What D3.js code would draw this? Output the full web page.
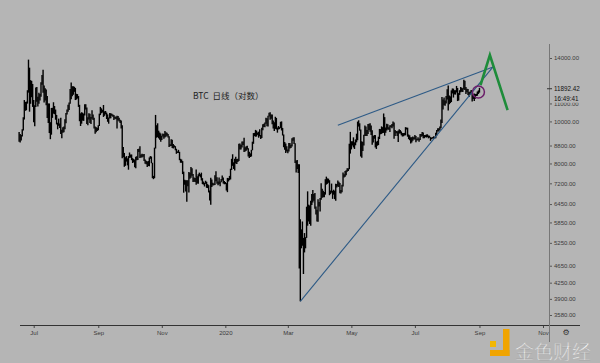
<!DOCTYPE html>
<html><head><meta charset="utf-8">
<script src="https://cdn.jsdelivr.net/npm/d3@7"></script>
<style>html,body{margin:0;padding:0;background:#b5b5b5;}svg{display:block;}</style>
</head><body>
<svg id="c" width="600" height="363"></svg>
<script>
// ---- data (BTC daily) ----
const monthStarts = ["2019-06-17","2019-07-01","2019-08-01","2019-09-01","2019-10-01","2019-11-01","2019-12-01",
  "2020-01-01","2020-02-01","2020-03-01","2020-04-01","2020-05-01","2020-06-01","2020-07-01","2020-08-01","2020-09-01"];
const dayHigh = [
 [9450,9350,9300,9590,10230,11200,11090,11110,11800,13880,13300,12450,12400,12200],
 [11200,10900,11970,12000,11400,11650,11570,12310,12800,13150,12100,11920,11850,11440,11000,11000,9960,10740,10750,11070,10850,10650,10350,9930,10150,9890,10190,9570,9700,9730,10110],
 [10460,10650,10920,11060,11880,12300,12050,12050,12020,11950,11580,11560,11440,10920,10440,10500,10470,10420,10950,10950,10760,10230,10440,10410,10240,10610,10370,10200,9730,9690,9670],
 [9800,10420,10800,10720,10640,10910,10550,10570,10480,10380,10210,10450,10440,10420,10380,10350,10270,10250,10300,10290,10200,10090,10050,9800,8730,8460,8270,8320,8220,8320],
 [8480,8390,8390,8230,8190,8160,8290,8310,8640,8650,8770,8390,8420,8400,8410,8170,8120,8080,8100,8260,8320,8300,8030,7490,8700,10350,9800,9900,9520,9430,9380],
 [9270,9380,9360,9500,9440,9410,9350,9240,8860,9100,9070,8870,8810,8770,8650,8530,8600,8510,8200,8170,8100,7660,7340,7320,7320,7320,7650,7620,7850,7800],
 [7570,7430,7410,7750,7480,7560,7620,7560,7620,7400,7270,7220,7300,7260,7170,7130,6930,7420,7350,7220,7190,7520,7680,7440,7270,7430,7270,7370,7510,7430,7290],
 [7250,7210,7410,7400,7490,7780,8200,8400,8050,8200,8290,8190,8200,8880,8890,8830,8990,8990,9170,8720,8760,8790,8670,8510,8440,8600,8980,9400,9410,9560,9520],
 [9430,9470,9590,9300,9670,9850,9880,9940,10190,10170,10300,10470,10500,10380,10370,10050,9960,10250,10190,9680,9760,9700,9980,10000,9660,9330,8960,8890,8760],
 [8610,8920,8920,8840,9150,9180,9200,8900,8130,8150,7970,7970,5950,5640,5880,5390,5530,5410,6360,6900,6430,6400,6560,6800,6950,6800,6840,6370,6260,6620,6520],
 [6660,7200,7000,6920,6880,7360,7460,7390,7380,7320,6930,7190,6920,6960,6920,7180,7170,7310,7260,7210,6950,7150,7630,7560,7690,7720,7800,7800,8880,9460],
 [9000,9000,9190,8950,9090,9370,9990,10060,9900,9580,9000,8960,9320,9790,9740,9560,9870,9880,9900,9780,9540,9260,9310,9300,8980,9020,9220,9610,9600,9740,9700],
 [10430,10230,9680,9880,9850,9700,9800,9800,9860,9990,9940,9560,9500,9490,9530,9590,9550,9480,9400,9400,9410,9700,9680,9670,9330,9290,9190,9190,9230,9200],
 [9300,9260,9120,9190,9130,9360,9350,9450,9430,9300,9300,9330,9340,9280,9270,9200,9180,9200,9240,9220,9420,9550,9640,9640,9730,10100,11380,11240,11350,11180,11450],
 [11860,12100,11470,11420,11790,11910,11900,11800,11800,12070,11940,11620,11800,12000,11960,11930,12470,12400,12010,11890,11880,11690,11720,11820,11790,11530,11590,11560,11580,11720,11790],
 [11950]
];
const dayLow = [
 [8980,8940,9040,9230,9530,10100,10580,10610,10990,11650,10530,10980,11370,10800],
 [9960,9750,10800,11100,10830,10980,11180,11400,12150,11650,11050,11180,10900,10180,9920,9400,9100,9320,10190,10420,10390,10090,9840,9590,9770,9660,9360,9150,9420,9440,9590],
 [9900,10370,10520,10630,10980,11250,11430,11520,11700,11200,11230,11290,10800,10010,9760,9880,10040,10030,10320,10650,9860,9800,10100,9910,9860,10140,10080,9630,9370,9440,9500],
 [9540,9760,10340,10440,10480,10240,10300,10380,10130,9980,9880,10150,10170,10300,10250,10080,10140,10120,9630,10050,9990,9920,9630,8220,8270,7860,7900,8080,7920,7740],
 [8240,8250,8140,8020,8050,7840,7800,8140,8150,8500,8240,8260,8260,8290,8110,7990,7970,7850,7890,7880,8200,8010,7400,7360,7400,8660,9170,9200,9140,9070,8980],
 [9060,9230,9120,9180,9220,9270,9180,8730,8770,8780,8680,8660,8710,8580,8420,8460,8460,8140,8030,8030,7560,6850,7150,6890,6530,7090,6860,7380,7420,7500],
 [7250,7260,7250,7150,7190,7180,7480,7430,7310,7170,7150,7080,7180,7030,7020,6860,6570,6430,7060,7120,7130,7140,7280,7180,7130,7160,7090,7240,7310,7190,7160],
 [7170,6930,6870,7270,7320,7350,7730,7900,7770,7710,8000,7980,8060,8100,8620,8610,8710,8820,8500,8520,8560,8610,8300,8240,8280,8300,8580,8880,9250,9220,9230],
 [9310,9170,9240,9110,9160,9540,9710,9690,9880,9750,9730,10260,10090,10140,9850,9630,9500,9610,9580,9420,9580,9600,9660,9530,9280,8720,8600,8460,8520],
 [8440,8520,8660,8680,8750,9020,8870,8020,7630,7770,7610,4580,3850,5100,5170,4450,4990,5100,5390,5750,5880,5800,5750,6420,6500,6560,6290,6100,5880,5870,6370],
 [6200,6600,6670,6690,6690,6780,7150,7180,7220,6760,6800,6850,6630,6780,6620,6560,7040,7080,7060,6830,6820,6870,7080,7430,7460,7520,7660,7690,7760,8430],
 [8620,8800,8710,8640,8810,8950,9050,9730,9520,8300,8250,8550,8800,9260,9260,9260,9360,9550,9460,9300,8830,8940,9120,8710,8640,8790,8820,9110,9340,9360,9400],
 [9410,9270,9420,9530,9580,9570,9450,9700,9640,9730,9120,9250,9390,9250,8970,9380,9380,9290,9230,9240,9280,9290,9580,9220,9100,9050,8890,8940,9030,9080],
 [9090,8950,9040,9050,8980,9060,9220,9240,9140,9150,9200,9180,9200,9140,9170,9020,9100,9130,9120,9140,9150,9280,9480,9480,9540,9650,9920,10650,10900,10860,10990],
 [11230,10600,10960,11020,11080,11600,11350,11540,11530,11660,11140,11170,11510,11680,11700,11690,11850,11820,11560,11680,11500,11380,11520,11600,11120,11260,11150,11280,11440,11460,11570],
 [11650]
];
const yTickValues = [14000,11000,10000,8800,8000,7200,6450,5850,5250,4650,4250,3900,3580];
const xTickDates = ["2019-07-01","2019-09-01","2019-11-01","2020-01-01","2020-03-01","2020-05-01","2020-07-01","2020-09-01","2020-11-01"];
const xTickLabels = ["Jul","Sep","Nov","2020","Mar","May","Jul","Sep","Nov"];
const titleText = "BTC  日线（对数）";
const lastPrice = 11892.42;
const countdown = "16:49:41";
const upperTrend = [["2020-04-18", 9800], ["2020-09-14", 13350]];
const lowerTrend = [["2020-03-13", 3850], ["2020-09-14", 13350]];
const projection = [["2020-09-02", 12120], ["2020-09-11", 14220], ["2020-09-28", 10620]];
const focusPoint = ["2020-08-31", 11690];
const watermark = "金色财经";

// ---- chart ----
const svg = d3.select("#c");
const W = 600, H = 363;
svg.append("rect").attr("width", W).attr("height", H).attr("fill", "#b5b5b5");

const parse = s => new Date(s + "T00:00:00Z");
const x = d3.scaleUtc().domain([parse("2019-07-01"), parse("2020-11-01")]).range([33.7, 543]);
const y = d3.scaleLog().domain([3580, 14000]).range([315, 58]);

const bars = [];
monthStarts.forEach((ms, m) => {
  const start = parse(ms);
  dayHigh[m].forEach((h, i) => {
    bars.push({ date: d3.utcDay.offset(start, i), hi: h, lo: dayLow[m][i] });
  });
});

const font = "'Liberation Sans', Arial, sans-serif";

// title
svg.append("text").attr("x", 193).attr("y", 99)
  .attr("font-family", "'Noto Sans CJK SC', 'Liberation Sans', sans-serif")
  .attr("font-size", 8.5).attr("fill", "#222").attr("xml:space", "preserve").text(titleText);

// price bars
svg.append("g").selectAll("line").data(bars).join("line")
  .attr("x1", d => x(d.date)).attr("x2", d => x(d.date))
  .attr("y1", d => y(d.lo)).attr("y2", d => y(d.hi))
  .attr("stroke", "#000").attr("stroke-width", 1.4);

// trend lines
const linePt = d3.line().x(d => x(parse(d[0]))).y(d => y(d[1]));
svg.append("path").attr("d", linePt(upperTrend)).attr("fill", "none").attr("stroke", "#2d5a86").attr("stroke-width", 1.1);
svg.append("path").attr("d", linePt(lowerTrend)).attr("fill", "none").attr("stroke", "#2d5a86").attr("stroke-width", 1.1);
svg.append("path").attr("d", linePt(projection)).attr("fill", "none").attr("stroke", "#1e8c3a")
  .attr("stroke-width", 2.6).attr("stroke-linejoin", "miter");
svg.append("circle").attr("cx", x(parse(focusPoint[0]))).attr("cy", y(focusPoint[1])).attr("r", 6)
  .attr("fill", "none").attr("stroke", "#6c1f6a").attr("stroke-width", 1.5);

// x axis
const xAxis = d3.axisBottom(x).tickValues(xTickDates.map(parse))
  .tickFormat((d, i) => xTickLabels[i]).tickSize(3).tickPadding(3);
const gx = svg.append("g").attr("transform", "translate(0,325)").call(xAxis);
gx.select(".domain").remove();
gx.selectAll(".tick line").attr("stroke", "#444");
gx.selectAll(".tick text").attr("font-family", font).attr("font-size", 6).attr("fill", "#3a3a3a");
svg.append("line").attr("x1", 20).attr("x2", 580).attr("y1", 325.5).attr("y2", 325.5)
  .attr("stroke", "#333").attr("stroke-width", 1);

// y axis
const yAxis = d3.axisRight(y).tickValues(yTickValues).tickFormat(d3.format(".2f")).tickSize(3).tickPadding(2);
const gy = svg.append("g").attr("transform", "translate(549,0)").call(yAxis);
gy.select(".domain").remove();
gy.selectAll(".tick line").attr("stroke", "#555");
gy.selectAll(".tick text").attr("font-family", font).attr("font-size", 6).attr("fill", "#3a3a3a");
svg.append("line").attr("x1", 549.5).attr("x2", 549.5).attr("y1", 44).attr("y2", 342)
  .attr("stroke", "#777").attr("stroke-width", 1);

// last price tag
const yp = y(lastPrice);
svg.append("rect").attr("x", 551).attr("y", yp - 6.5).attr("width", 40).attr("height", 20.5).attr("fill", "#b5b5b5");
svg.append("line").attr("x1", 547).attr("x2", 552).attr("y1", yp).attr("y2", yp).attr("stroke", "#333");
svg.append("text").attr("x", 554).attr("y", yp + 2).attr("font-family", font).attr("font-size", 6.3)
  .attr("fill", "#111").text(d3.format(".2f")(lastPrice));
svg.append("text").attr("x", 554).attr("y", yp + 12).attr("font-family", font).attr("font-size", 6.3)
  .attr("fill", "#111").text(countdown);

// gear
svg.append("text").attr("x", 566).attr("y", 335).attr("text-anchor", "middle")
  .attr("font-family", "'DejaVu Sans', sans-serif").attr("font-size", 8).attr("fill", "#333").text("⚙");

// watermark logo
const wm = svg.append("g");
wm.append("rect").attr("x", 490).attr("y", 341).attr("width", 6).attr("height", 6).attr("fill", "#f2b705");
wm.append("rect").attr("x", 503).attr("y", 329).attr("width", 6.5).attr("height", 27).attr("fill", "#f0a400");
wm.append("rect").attr("x", 490).attr("y", 350).attr("width", 19.5).attr("height", 6).attr("fill", "#f0a400");
wm.append("text").attr("x", 515).attr("y", 359)
  .attr("font-family", "'Noto Sans CJK SC', sans-serif").attr("font-size", 19).attr("font-weight", 300)
  .attr("fill", "#ffffff").attr("stroke", "#9a9a9a").attr("stroke-width", 0.3).text(watermark);
</script>
</body></html>
